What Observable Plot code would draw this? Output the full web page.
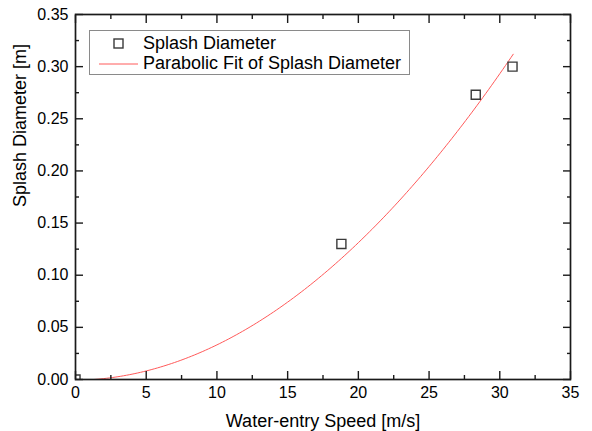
<!DOCTYPE html>
<html><head><meta charset="utf-8">
<script src="https://cdn.jsdelivr.net/npm/d3@7"></script>
<script src="https://cdn.jsdelivr.net/npm/@observablehq/plot@0.6"></script>
<style>
body{margin:0;background:#fff;}
#wrap{position:relative;width:592px;height:431px;font-family:"Liberation Sans",Arial,sans-serif;}
#legend{position:absolute;left:89px;top:30px;width:321px;height:45px;border:1px solid #8a8a8a;background:#fff;box-sizing:border-box;font-size:18px;color:#000;}
#legend .row{position:absolute;left:0;height:20px;line-height:20px;white-space:nowrap;}
#legend svg{position:absolute;left:0;top:0;}
#legend span{position:absolute;left:53px;top:0;}
</style></head><body><div id="wrap"></div>
<script>
// Measured data points
const speeds = [0, 18.8, 28.3, 30.9];
const diameters = [0, 0.130, 0.273, 0.300];
// Parabolic fit: y = a + b*x + c*x^2
const fitA = -0.0008, fitB = 0.0002, fitC = 0.00032;
const fitRange = [0, 30.95];
// Axes
const xMajorTicks = [0, 5, 10, 15, 20, 25, 30, 35];
const xTickLabels = ["0", "5", "10", "15", "20", "25", "30", "35"];
const xMinorTicks = [2.5, 7.5, 12.5, 17.5, 22.5, 27.5, 32.5];
const yMajorTicks = [0, 0.05, 0.10, 0.15, 0.20, 0.25, 0.30, 0.35];
const yTickLabels = ["0.00", "0.05", "0.10", "0.15", "0.20", "0.25", "0.30", "0.35"];
const yMinorTicks = [0.025, 0.075, 0.125, 0.175, 0.225, 0.275, 0.325];
const xTitle = "Water-entry Speed [m/s]";
const yTitle = "Splash Diameter [m]";
const legendLabels = ["Splash Diameter", "Parabolic Fit of Splash Diameter"];

const points = speeds.map((s, i) => ({x: s, y: diameters[i]}));
const fit = d3.range(fitRange[0], fitRange[1], 0.2).concat([fitRange[1]]).map(x => ({x, y: fitA + fitB * x + fitC * x * x}));

const font = "Liberation Sans, Arial, sans-serif";
const axisStroke = "#1a1a1a";
function tickAxes() {
  const out = [];
  for (const anchor of ["bottom", "top"]) {
    out.push(Plot.axisX(xMajorTicks, {anchor, tickSize: -8, text: null, label: null, stroke: axisStroke, strokeWidth: 1.4}));
    out.push(Plot.axisX(xMinorTicks, {anchor, tickSize: -4, text: null, label: null, stroke: axisStroke, strokeWidth: 1.4}));
  }
  for (const anchor of ["left", "right"]) {
    out.push(Plot.axisY(yMajorTicks, {anchor, tickSize: -8, text: null, label: null, stroke: axisStroke, strokeWidth: 1.4}));
    out.push(Plot.axisY(yMinorTicks, {anchor, tickSize: -4, text: null, label: null, stroke: axisStroke, strokeWidth: 1.4}));
  }
  return out;
}

const chart = Plot.plot({
  width: 592, height: 431,
  marginLeft: 75, marginRight: 22, marginTop: 14, marginBottom: 52,
  style: {fontFamily: font, background: "#fff"},
  x: {domain: [0, 35]},
  y: {domain: [0, 0.35]},
  marks: [
    Plot.line(fit, {x: "x", y: "y", stroke: "#ff5a5a", strokeWidth: 1, clip: "frame"}),
    Plot.dot(points, {x: "x", y: "y", symbol: "square", r: 5.1, stroke: "#3a3a3a", strokeWidth: 1.4, fill: "none", clip: "frame"}),
    ...tickAxes(),
    Plot.axisX(xMajorTicks, {anchor: "bottom", tickSize: 0, tickPadding: 7, tickFormat: (d, i) => xTickLabels[i], fontSize: 16, fill: "#000", label: null}),
    Plot.axisY(yMajorTicks, {anchor: "left", tickSize: 0, tickPadding: 7, tickFormat: (d, i) => yTickLabels[i], fontSize: 16, fill: "#000", label: null}),
    Plot.frame({stroke: axisStroke, strokeWidth: 1.7}),
    Plot.text([xTitle], {text: d => d, frameAnchor: "bottom", dy: 42, fontSize: 18, fill: "#000", lineAnchor: "middle"}),
    Plot.text([yTitle], {text: d => d, frameAnchor: "left", dx: -55, dy: 10, rotate: -90, fontSize: 18, fill: "#000", lineAnchor: "middle"})
  ]
});
const wrap = document.getElementById("wrap");
wrap.appendChild(chart);

const legend = document.createElement("div");
legend.id = "legend";
legend.innerHTML = `
  <div class="row" style="top:2px;width:100%"><svg width="60" height="20"><rect x="24" y="6" width="9" height="9" fill="none" stroke="#3a3a3a" stroke-width="1.4"/></svg><span>${legendLabels[0]}</span></div>
  <div class="row" style="top:22px;width:100%"><svg width="60" height="20"><line x1="9" x2="48" y1="11" y2="11" stroke="#ff5a5a" stroke-width="1"/></svg><span>${legendLabels[1]}</span></div>`;
wrap.appendChild(legend);
</script></body></html>
